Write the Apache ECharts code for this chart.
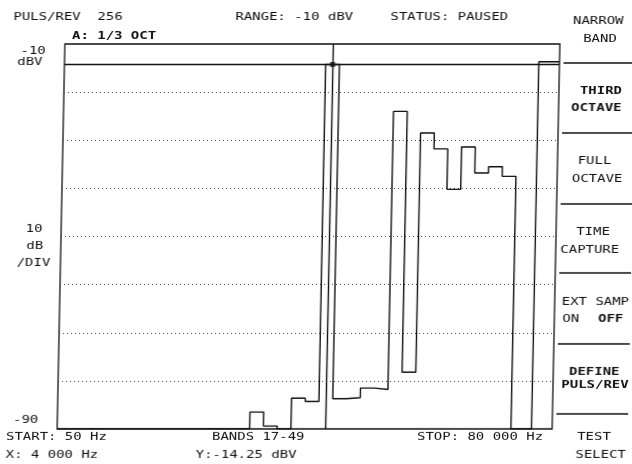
<!DOCTYPE html>
<html>
<head>
<meta charset="utf-8">
<script src="https://cdn.jsdelivr.net/npm/echarts@6/dist/echarts.min.js"></script>
<style>
  html, body { margin: 0; padding: 0; background: #fff; }
  /* the scanned plot leans a little: top sits right of bottom */
  #spectrum { width: 632px; height: 464px; background: #fff;
              transform: skewX(-1.15deg); transform-origin: 316px 237px; }
</style>
</head>
<body>
<div id="spectrum"></div>
<script>
// 1/3 octave bands 17..49  (50 Hz .. 80 kHz)
const bands = [17, 18, 19, 20, 21, 22, 23, 24, 25, 26, 27, 28, 29, 30, 31, 32, 33,
               34, 35, 36, 37, 38, 39, 40, 41, 42, 43, 44, 45, 46, 47, 48, 49];
// dBV per band
const levels = [-90, -90, -90, -90, -90, -90, -90, -90, -90, -90, -90, -90, -90, -90,
                -86.5, -89.4, -90, -83.6, -84.3, -14.25, -83.7, -83.5, -81.5, -81.8,
                -24.0, -78.2, -28.5, -31.8, -40.2, -31.4, -36.8, -35.5, -37.5];
const overallLevel = -13.7;   // total bar at right
const cursorBand = 36;        // 4 000 Hz
const cursorLevel = -14.25;

const levelMin = -90, levelMax = -10;

const headerTexts = ['PULS/REV  256', 'RANGE: -10 dBV', 'STATUS: PAUSED'];
const footerTexts = ['START: 50 Hz', 'BANDS 17-49', 'STOP: 80 000 Hz', 'X: 4 000 Hz', 'Y:-14.25 dBV'];
const scaleTexts = ['-10', 'dBV', '10', 'dB', '/DIV', '-90'];
const menuItems = [
  ['NARROW', 'BAND'],
  ['THIRD', 'OCTAVE'],
  ['FULL', 'OCTAVE'],
  ['TIME', 'CAPTURE'],
  ['EXT SAMP', 'ON'],
  ['DEFINE', 'PULS/REV'],
  ['TEST', 'SELECT']
];

const ink = '#111';
const FONT = '11px "DejaVu Sans Mono"';
const BOLD = 'bold 11px "DejaVu Sans Mono"';

function txt(text, x, y, align, bold) {
  return {
    type: 'text', x: x, y: y, scaleX: 1.27,
    style: { text: text, fill: ink, font: bold ? BOLD : FONT,
             textAlign: align || 'left', textVerticalAlign: 'middle' }
  };
}

// histogram outline of the bands, then the overall bar
const trace = bands.map((b, i) => [b, levels[i]]);
trace.push([bands[bands.length - 1] + 1, levelMin]);
trace.push([51.5, overallLevel], [53, overallLevel]);

const graphics = [
  txt(headerTexts[0], 9, 17),
  txt(headerTexts[1], 231, 17),
  txt(headerTexts[2], 386, 17),
  txt('A: 1/3 OCT', 68, 36, 'left', true),

  txt(scaleTexts[0], 42, 51, 'right'),
  txt(scaleTexts[1], 39, 62, 'right'),
  txt(scaleTexts[2], 34, 229, 'center'),
  txt(scaleTexts[3], 35, 246, 'center'),
  txt(scaleTexts[4], 34, 263, 'center'),
  txt(scaleTexts[5], 42, 420, 'right'),

  txt(footerTexts[0], 10, 437),
  txt(footerTexts[1], 216, 437),
  txt(footerTexts[2], 421, 437),
  txt(footerTexts[3], 10, 455),
  txt(footerTexts[4], 200, 455),

  // soft-key menu
  txt(menuItems[0][0], 594, 21, 'center'),
  txt(menuItems[0][1], 596, 39, 'center'),
  txt(menuItems[1][0], 619, 91, 'right', true),
  txt(menuItems[1][1], 619, 108, 'right', true),
  txt(menuItems[2][0], 593, 161, 'center'),
  txt(menuItems[2][1], 596, 179, 'center'),
  txt(menuItems[3][0], 593, 232, 'center'),
  txt(menuItems[3][1], 590, 250, 'center'),
  txt(menuItems[4][0], 563, 302),
  txt(menuItems[4][1], 564, 319),
  txt('OFF', 625, 319, 'right', true),
  txt(menuItems[5][0], 597, 372, 'center', true),
  txt(menuItems[5][1], 598, 385, 'center', true),
  txt(menuItems[6][0], 598, 437, 'center'),
  txt(menuItems[6][1], 605, 455, 'center')
];

// menu separators
[63, 133, 204, 273, 344, 414].forEach(function (y) {
  graphics.push({
    type: 'line', shape: { x1: 560, y1: y, x2: 645, y2: y },
    style: { stroke: ink, lineWidth: 1.5 }
  });
});

const chart = echarts.init(document.getElementById('spectrum'));
chart.setOption({
  backgroundColor: '#fff',
  animation: false,
  grid: {
    left: 61, top: 44, right: 76, bottom: 35,
    show: true, borderColor: ink, borderWidth: 1.3, backgroundColor: 'transparent'
  },
  xAxis: {
    type: 'value', min: 17, max: 53,
    axisLine: { show: false }, axisTick: { show: false },
    axisLabel: { show: false }, splitLine: { show: false }
  },
  yAxis: {
    type: 'value', min: levelMin, max: levelMax, interval: 10,
    axisLine: { show: false }, axisTick: { show: false },
    axisLabel: { show: false },
    splitLine: { show: true, lineStyle: { color: '#444', width: 1, type: [1, 3] } }
  },
  series: [
    {
      name: 'level',
      type: 'line',
      step: 'end',
      data: trace,
      symbol: 'none',
      lineStyle: { color: ink, width: 1.4 },
      markLine: {
        silent: true,
        symbol: 'none',
        label: { show: false },
        lineStyle: { color: ink, width: 1.4, type: 'solid' },
        data: [{ xAxis: cursorBand + 0.5 }, { yAxis: cursorLevel }]
      }
    },
    {
      name: 'cursor',
      type: 'scatter',
      data: [[cursorBand + 0.5, cursorLevel]],
      symbol: 'rect',
      symbolSize: 5,
      itemStyle: { color: ink }
    }
  ],
  graphic: graphics
});
</script>
</body>
</html>
